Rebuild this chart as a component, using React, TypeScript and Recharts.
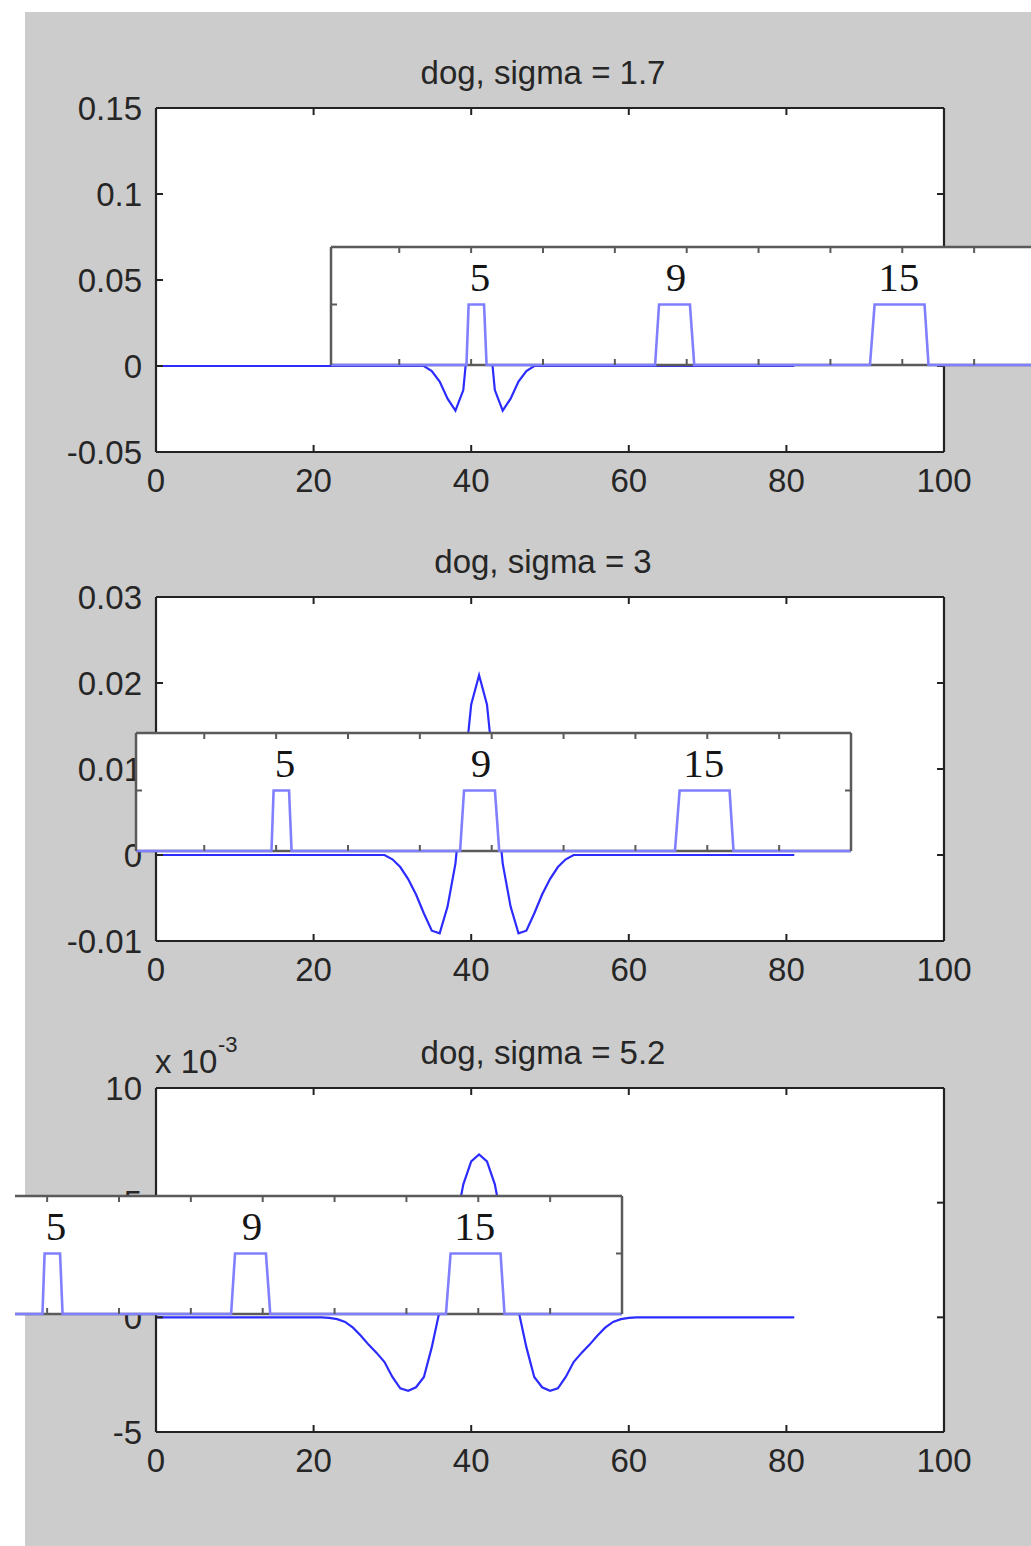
import React from 'react';
import { LineChart, Line, XAxis, YAxis, CartesianGrid, ReferenceDot } from 'recharts';

// ---------- data ----------
const xTicks = [0, 20, 40, 60, 80, 100];
const titles = ['dog, sigma = 1.7', 'dog, sigma = 3', 'dog, sigma = 5.2'];

const dog1X = [0, 34, 35, 36, 37, 38, 39, 40, 41, 42, 43, 44, 45, 46, 47, 48, 81];
const dog1Y = [0, 0, -0.003, -0.009, -0.019, -0.026, -0.014, 0.035, 0.06, 0.035, -0.014, -0.026, -0.019, -0.009, -0.003, 0, 0];
const dog1Ticks = [-0.05, 0, 0.05, 0.1, 0.15];

const dog2X = [0, 29, 30, 31, 32, 33, 34, 35, 36, 37, 38, 39, 40, 41, 42, 43, 44, 45, 46, 47, 48, 49, 50, 51, 52, 53, 81];
const dog2Y = [0, 0, -0.0005, -0.0014, -0.0028, -0.0046, -0.0068, -0.0088, -0.0091, -0.006, -0.001, 0.0085, 0.0175, 0.0209, 0.0175, 0.0085, -0.001, -0.006, -0.0091, -0.0088, -0.0068, -0.0046, -0.0028, -0.0014, -0.0005, 0, 0];
const dog2Ticks = [-0.01, 0, 0.01, 0.02, 0.03];

// values in units of 1e-3
const dog3X = [0, 21, 22, 23, 24, 25, 26, 27, 28, 29, 30, 31, 32, 33, 34, 35, 36, 37, 38, 39, 40, 41, 42, 43, 44, 45, 46, 47, 48, 49, 50, 51, 52, 53, 54, 55, 56, 57, 58, 59, 60, 61, 81];
const dog3Y = [0, 0, -0.02, -0.08, -0.2, -0.45, -0.8, -1.2, -1.55, -1.95, -2.6, -3.1, -3.2, -3.05, -2.6, -1.3, 0.3, 1.9, 4.0, 5.8, 6.8, 7.1, 6.8, 5.8, 4.0, 1.9, 0.3, -1.3, -2.6, -3.05, -3.2, -3.1, -2.6, -1.95, -1.55, -1.2, -0.8, -0.45, -0.2, -0.08, -0.02, 0, 0];
const dog3Ticks = [-5, 0, 5, 10];

// inset (pulse signal)
const pulseX = [1, 38.7, 39.3, 43.6, 44.3, 91.2, 92.3, 100.9, 102.1, 151, 152.3, 166.2, 167.3, 200];
const pulseY = [0, 0, 1, 1, 0, 0, 1, 1, 0, 0, 1, 1, 0, 0];
const pulseLabels = ['5', '9', '15'];
const pulseLabelX = [42.5, 97, 159];
const pulseLabelY = 1.47;
const insetTicks = [20, 40, 60, 80, 100, 120, 140, 160, 180];

// ---------- styles / layout ----------
const W = 1031;
const H = 1546;
const PLOT_LEFT = 156;
const PLOT_RIGHT = 944;
const PLOT_H = 344;
const plotTops = [108, 597, 1088];
const insetLefts = [331, 136, -93];
const insetTops = [247, 733, 1196];
const INSET_W = 715;
const INSET_H = 118;
const AX = 1; // axis thickness reserved

const axisStroke = '#222222';
const sans = '"Liberation Sans", Arial, Helvetica, sans-serif';
const tickFont = { fontSize: 33, fill: '#262626', fontFamily: sans };
const insetStroke = '#5a5a5a';
const noLabel = () => '';

const toRows = (xs: number[], ys: number[]) => xs.map((x, i) => ({ x, y: ys[i], base: 0 }));

function MainPlot({ idx, xs, ys, yDomain, yTicks }: { idx: number; xs: number[]; ys: number[]; yDomain: [number, number]; yTicks: number[] }) {
  const top = plotTops[idx];
  const mTop = 40;
  const mBottom = 70;
  const data = toRows(xs, ys);
  const line = { stroke: axisStroke, strokeWidth: 2.2 };
  const tl = { stroke: axisStroke, strokeWidth: 2 };
  return (
    <div style={{ position: 'absolute', left: 0, top: top - mTop }}>
      <LineChart
        width={W}
        height={PLOT_H + mTop + mBottom}
        data={data}
        margin={{ top: mTop - AX, right: W - PLOT_RIGHT - AX, bottom: mBottom - AX, left: PLOT_LEFT - AX }}
      >
        <CartesianGrid fill="#ffffff" horizontal={false} vertical={false} stroke="none" />
        <XAxis
          dataKey="x"
          type="number"
          domain={[0, 100]}
          ticks={xTicks}
          interval={0}
          height={AX}
          tickSize={-7}
          tickMargin={24}
          tick={tickFont}
          axisLine={line}
          tickLine={tl}
        />
        <XAxis
          xAxisId="top"
          dataKey="x"
          orientation="top"
          type="number"
          domain={[0, 100]}
          ticks={xTicks}
          interval={0}
          height={AX}
          tickSize={-7}
          tickFormatter={noLabel}
          axisLine={line}
          tickLine={tl}
        />
        <YAxis
          type="number"
          domain={yDomain}
          ticks={yTicks}
          interval={0}
          width={AX}
          tickSize={-7}
          tickMargin={21}
          tick={tickFont}
          axisLine={line}
          tickLine={tl}
        />
        <YAxis
          yAxisId="right"
          orientation="right"
          type="number"
          domain={yDomain}
          ticks={yTicks}
          interval={0}
          width={AX}
          tickSize={-7}
          tickFormatter={noLabel}
          axisLine={line}
          tickLine={tl}
        />
        <Line
          xAxisId="top"
          yAxisId="right"
          type="linear"
          dataKey="y"
          stroke="none"
          strokeWidth={0}
          dot={false}
          activeDot={false}
          isAnimationActive={false}
        />
        <Line
          type="linear"
          dataKey="y"
          stroke="#2c2cff"
          strokeWidth={2.2}
          dot={false}
          activeDot={false}
          isAnimationActive={false}
        />
      </LineChart>
    </div>
  );
}

function Inset({ idx }: { idx: number }) {
  const data = toRows(pulseX, pulseY);
  const m = 3;
  const left = insetLefts[idx] - m;
  const top = insetTops[idx] - m;
  const clipLeft = Math.max(left, 15);
  const line = { stroke: insetStroke, strokeWidth: 2.5 };
  const tline = { stroke: insetStroke, strokeWidth: 2 };
  return (
    <div
      style={{
        position: 'absolute',
        left: clipLeft,
        top,
        width: INSET_W + 2 * m - (clipLeft - left),
        height: INSET_H + 2 * m,
        overflow: 'hidden',
      }}
    >
      <div style={{ position: 'absolute', left: left - clipLeft, top: 0 }}>
        <LineChart
          width={INSET_W + 2 * m}
          height={INSET_H + 2 * m}
          data={data}
          margin={{ top: m - AX, right: m - AX, bottom: m - AX, left: m - AX }}
        >
          <CartesianGrid fill="#ffffff" horizontal={false} vertical={false} stroke="none" />
          <XAxis dataKey="x" type="number" domain={[1, 200]} ticks={insetTicks} interval={0} height={AX} tickSize={-6} tickFormatter={noLabel} axisLine={false} tickLine={tline} />
          <XAxis xAxisId="top" dataKey="x" orientation="top" type="number" domain={[1, 200]} ticks={insetTicks} interval={0} height={AX} tickSize={-6} tickFormatter={noLabel} axisLine={line} tickLine={tline} />
          <YAxis type="number" domain={[0, 1.95]} ticks={[1]} interval={0} width={AX} tickSize={-6} tickFormatter={noLabel} axisLine={line} tickLine={tline} />
          <YAxis yAxisId="right" orientation="right" type="number" domain={[0, 1.95]} ticks={[1]} interval={0} width={AX} tickSize={-6} tickFormatter={noLabel} axisLine={line} tickLine={tline} />
          <Line
            xAxisId="top"
            yAxisId="right"
            type="linear"
            dataKey="y"
            stroke="none"
            strokeWidth={0}
            dot={false}
            activeDot={false}
            isAnimationActive={false}
          />
          <Line
            type="linear"
            dataKey="base"
            stroke={insetStroke}
            strokeWidth={2.5}
            dot={false}
            activeDot={false}
            isAnimationActive={false}
          />
          <Line
            type="linear"
            dataKey="y"
            stroke="#8080ff"
            strokeWidth={2.6}
            dot={false}
            activeDot={false}
            isAnimationActive={false}
          />
          {pulseLabels.map((lab, i) => (
            <ReferenceDot
              key={lab}
              x={pulseLabelX[i]}
              y={pulseLabelY}
              r={0}
              fill="none"
              stroke="none"
              label={{
                value: lab,
                position: 'center',
                fontSize: 41,
                fill: '#151515',
                fontFamily: '"Liberation Serif", "Times New Roman", serif',
              }}
            />
          ))}
        </LineChart>
      </div>
    </div>
  );
}

export default function App() {
  return (
    <div style={{ position: 'absolute', left: 0, top: 0, width: W, height: H, overflow: 'hidden', background: '#ffffff' }}>
      <div style={{ position: 'absolute', left: 25, top: 12, right: 0, bottom: 0, background: '#cccccc' }} />
      <svg width={W} height={H} style={{ position: 'absolute', left: 0, top: 0 }}>
        {titles.map((t, i) => (
          <text key={t} x={543} y={plotTops[i] - 24} textAnchor="middle" fontSize={33} fill="#262626" fontFamily={sans}>
            {t}
          </text>
        ))}
        <text x={155} y={1073} fontSize={33} fill="#262626" fontFamily={sans}>x 10</text>
        <text x={218} y={1052} fontSize={22} fill="#262626" fontFamily={sans}>-3</text>
      </svg>
      <MainPlot idx={0} xs={dog1X} ys={dog1Y} yDomain={[-0.05, 0.15]} yTicks={dog1Ticks} />
      <Inset idx={0} />
      <MainPlot idx={1} xs={dog2X} ys={dog2Y} yDomain={[-0.01, 0.03]} yTicks={dog2Ticks} />
      <Inset idx={1} />
      <MainPlot idx={2} xs={dog3X} ys={dog3Y} yDomain={[-5, 10]} yTicks={dog3Ticks} />
      <Inset idx={2} />
    </div>
  );
}
